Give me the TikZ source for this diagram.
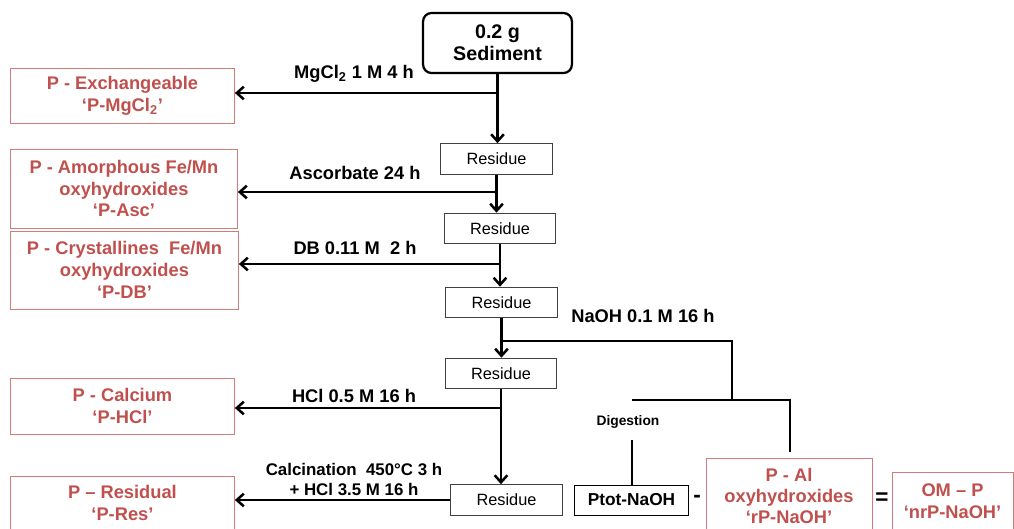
\documentclass[tikz,border=0pt]{standalone}
\usepackage{fontspec}
\setmainfont{Liberation Sans}
\usetikzlibrary{arrows.meta}
\definecolor{pred}{RGB}{192,80,77}
\begin{document}
\begin{tikzpicture}[x=0.025cm, y=-0.025cm,
	every node/.style={align=center, inner sep=0pt},
	resbox/.style={draw=black!75, line width=0.6pt, minimum width=2.78cm, minimum height=0.77cm, font=\fontsize{11.6}{13}\selectfont},
	pbox/.style={draw=pred!75, line width=0.6pt, text=pred, anchor=west, font=\bfseries\fontsize{13}{15.6}\selectfont},
	lab/.style={font=\bfseries\fontsize{13}{15.6}\selectfont},
	flow/.style={line width=1.8pt},
	arr/.style={flow, -{Straight Barb[length=5pt,width=9pt]}}]
	\useasboundingbox (0,0) rectangle (1014,528);
	% sample
	\node[draw, rounded corners=6pt, line width=1.6pt, minimum width=3.72cm, minimum height=1.5cm, font=\bfseries\fontsize{14}{15.6}\selectfont] (sed) at (497.5,43) {0.2 g\\Sediment};
	% residues
	\foreach \n/\x/\y in {res1/496.5/159, res2/500/228.5, res3/501.5/302.5, res4/501/373.5, res5/506.5/500}
		\node[resbox] (\n) at (\x,\y) {Residue};
	% fractions
	\node[pbox, minimum width=5.6cm, minimum height=1.375cm] (exch) at (10,95.5) {P - Exchangeable\\‘P-MgCl\textsubscript{2}’};
	\node[pbox, minimum width=5.675cm, minimum height=1.975cm] (amor) at (10,188.5) {P - Amorphous Fe/Mn\\oxyhydroxides\\‘P-Asc’};
	\node[pbox, minimum width=5.7cm, minimum height=1.95cm] (crys) at (10,270) {P - Crystallines\ \ Fe/Mn\\oxyhydroxides\\‘P-DB’};
	\node[pbox, minimum width=5.6cm, minimum height=1.4cm] (calc) at (10,406) {P - Calcium\\‘P-HCl’};
	\node[pbox, minimum width=5.6cm, minimum height=1.35cm] (resid) at (10,503) {P – Residual\\‘P-Res’};
	% NaOH balance
	\node[draw, line width=0.7pt, minimum width=2.825cm, minimum height=0.75cm, font=\bfseries\fontsize{12.3}{14}\selectfont] (ptot) at (631.5,500) {Ptot-NaOH};
	\node[font=\bfseries\fontsize{16}{16}\selectfont] (minus) at (697,499) {-};
	\node[pbox, anchor=center, minimum width=4.15cm, minimum height=1.9cm, font=\bfseries\fontsize{13}{15}\selectfont] (pal) at (789,496) {P - Al\\oxyhydroxides\\‘rP-NaOH’};
	\node[font=\bfseries\fontsize{16}{16}\selectfont] (equal) at (882,499) {=};
	\node[pbox, anchor=center, minimum width=3.025cm, minimum height=1.45cm] (omp) at (952.5,501) {OM – P\\‘nrP-NaOH’};
	% reagents
	\node[lab] (lmg) at (354,74) {MgCl\textsubscript{2} 1 M 4 h};
	\node[lab] (lasc) at (355,173) {Ascorbate 24 h};
	\node[lab] (ldb) at (355,248) {DB 0.11 M\ \ 2 h};
	\node[lab] (lnaoh) at (643,316) {NaOH 0.1 M 16 h};
	\node[lab] (lhcl) at (354,396) {HCl 0.5 M 16 h};
	\node[font=\bfseries\fontsize{12}{14.2}\selectfont] (lcal) at (354,479) {Calcination\ \ 450°C 3 h\\+ HCl 3.5 M 16 h};
	\node[font=\bfseries\fontsize{9.8}{11}\selectfont] (ldig) at (628,422) {Digestion};
	% main stream
	\draw[arr] (sed.south) -- (sed.south |- res1.north);
	\draw[arr] (res1.south) -- (res1.south |- res2.north);
	\draw[arr] (res2.south) -- (res2.south |- res3.north);
	\draw[arr] (res3.south) -- (res3.south |- res4.north);
	\draw[arr] (res4.south) -- (res4.south |- res5.north);
	% extracts
	\foreach \a/\b/\y in {sed/exch/93, res1/amor/192, res2/crys/264, res4/calc/408} {
		\coordinate (k) at (0,\y);
		\draw[arr] (\a.south |- k) -- (\b.east |- k);
	}
	\draw[arr] (res5.west) -- (resid.east |- res5.west);
	% NaOH branch
	\coordinate (n0) at (0,341);
	\coordinate (n1) at (732,341);
	\coordinate (n2) at (732,400);
	\coordinate (d1) at (632,400);
	\coordinate (d2) at (790,400);
	\coordinate (d3) at (790,452);
	\coordinate (g1) at (632,440);
	\draw[flow] (res3.south |- n0) -- (n1) -- (n2);
	\draw[flow] (d1) -- (d2) -- (d3);
	\draw[flow, line width=1.5pt] (g1) -- (g1 |- ptot.north);
\end{tikzpicture}
\end{document}
